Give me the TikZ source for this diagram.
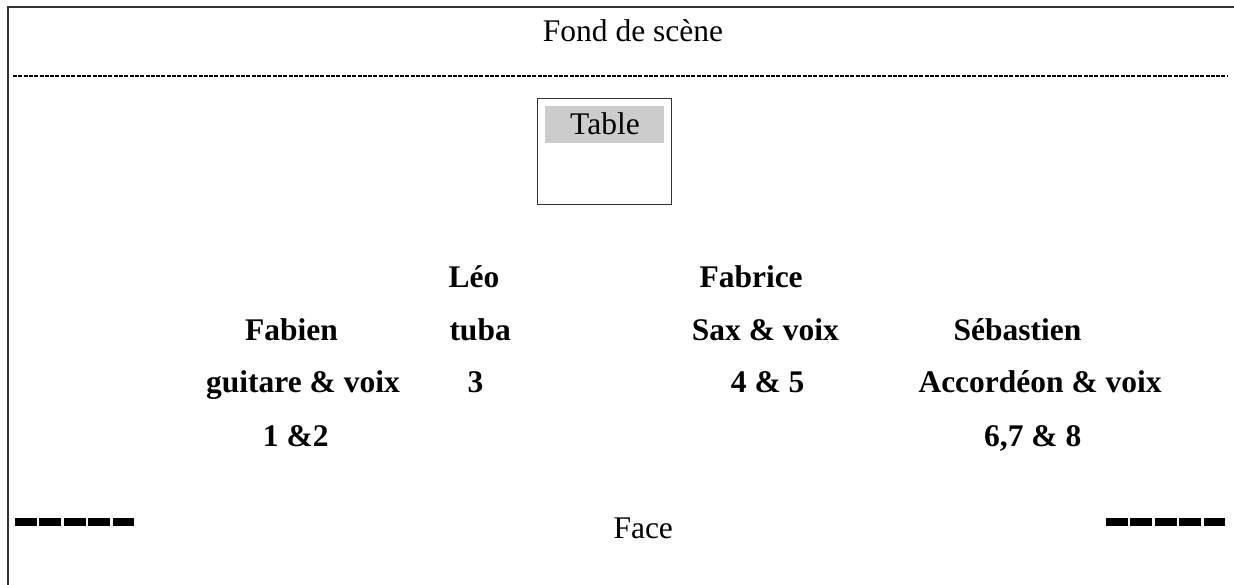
\documentclass[tikz,border=0pt]{standalone}
\usepackage{fontspec}
\setmainfont{Liberation Serif}
\begin{document}
\begin{tikzpicture}[x=1pt,y=-1pt,
  lbl/.style={anchor=base west,inner sep=0pt,font=\fontsize{31.5}{38}\selectfont},
  blbl/.style={lbl,font=\fontsize{31.5}{38}\selectfont\bfseries},
  frameline/.style={draw=black!80,line width=1.2pt},
  bigdash/.style={line width=7.4pt,dash pattern=on 21.7pt off 2.7pt}]
\useasboundingbox (0,0) rectangle (1234,585);
% frame
\coordinate (fbl) at (8,585);
\coordinate (ftl) at (8,7);
\coordinate (ftr) at (1234,7);
\draw[frameline] (fbl) -- (ftl) -- (ftr);
% back-stage dashed line
\coordinate (dl) at (13,76);
\coordinate (dr) at (1227.3,76);
\draw[line width=1.5pt,dash pattern=on 4pt off 1.3pt] (dl) -- (dr);
\node[lbl] (fond) at (542.7,41.7) {Fond de scène};
% table
\draw[frameline,line width=1pt] (537.7,99) rectangle (671.7,205);
\fill[black!20] (545,105.7) rectangle (664,142.7);
\node[lbl] (table) at (570,135) {Table};
% musicians
\node[blbl] (leo) at (448.3,287.5) {Léo};
\node[blbl] (fabrice) at (699.3,287.5) {Fabrice};
\node[blbl] (fabien) at (245,341) {Fabien};
\node[blbl] (tuba) at (449.3,341) {tuba};
\node[blbl] (sax) at (691.7,341) {Sax \& voix};
\node[blbl] (seb) at (953.3,341) {Sébastien};
\node[blbl] (guit) at (206,392.5) {guitare \& voix};
\node[blbl] (three) at (467.3,392.5) {3};
\node[blbl] (fourfive) at (730.7,392.5) {4 \& 5};
\node[blbl] (acc) at (918.3,392.5) {Accordéon \& voix};
\node[blbl] (onetwo) at (262.7,446) {1 \&2};
\node[blbl] (sixeight) at (984,446) {6,7 \& 8};
% front
\node[lbl] (face) at (613.3,538.3) {Face};
\coordinate (la) at (15,522);
\coordinate (lb) at (136.2,522);
\coordinate (ra) at (1106,522);
\coordinate (rb) at (1227.2,522);
\draw[bigdash] (la) -- (lb);
\draw[bigdash] (ra) -- (rb);
\end{tikzpicture}
\end{document}
